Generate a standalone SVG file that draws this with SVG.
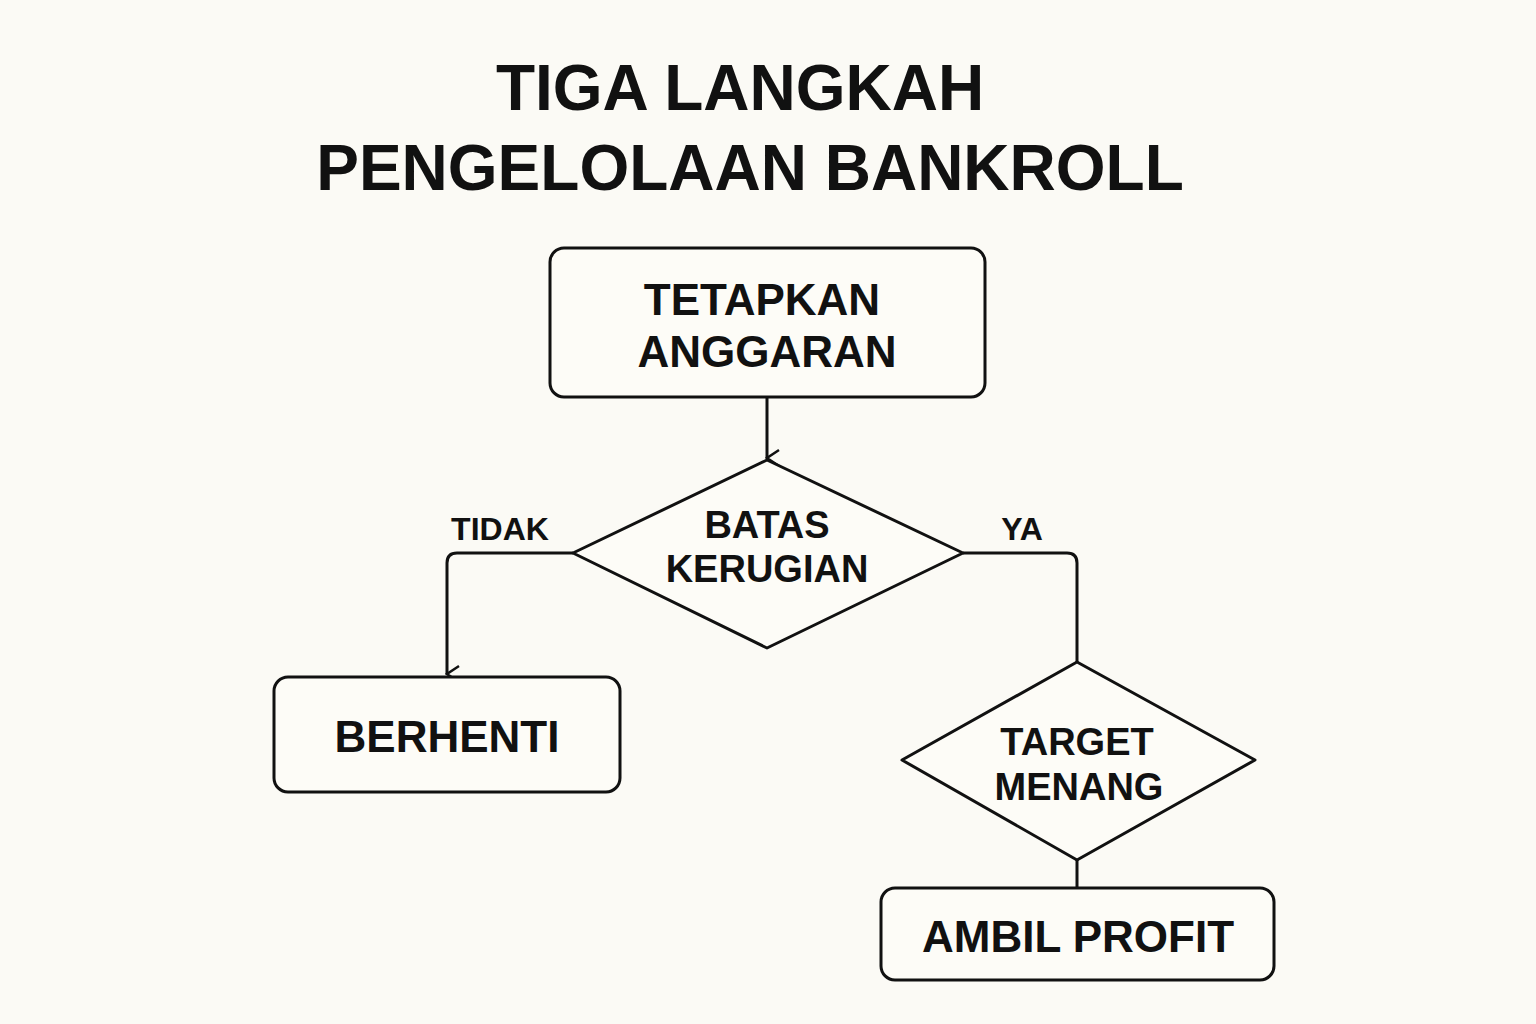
<svg xmlns="http://www.w3.org/2000/svg" width="1536" height="1024" viewBox="0 0 1536 1024">
<defs>
<style>
text{font-family:"Liberation Sans",Arial,sans-serif;font-weight:bold;fill:#111;text-anchor:middle}
.s{fill:#fdfcf7;stroke:#111;stroke-width:3;stroke-linejoin:round}
.c{fill:none;stroke:#111;stroke-width:3;stroke-linejoin:round}
</style>
<marker id="a" viewBox="0 0 20 20" refX="10" refY="18" markerWidth="20" markerHeight="20" markerUnits="userSpaceOnUse" orient="auto-start-reverse">
<path d="M2 6 L10 18 L18 6" fill="none" stroke="#111" stroke-width="2.5"/>
</marker>
</defs>
<rect width="1536" height="1024" fill="#fbfaf5"/>
<g id="title">
<text x="740" y="110" font-size="64">TIGA LANGKAH</text>
<text x="750" y="190" font-size="64">PENGELOLAAN BANKROLL</text>
</g>
<g id="connectors">
<path class="c" d="M767 397 V458" marker-end="url(#a)"/>
<path class="c" d="M573 553 H457 Q447 553 447 563 V674" marker-end="url(#a)"/>
<path class="c" d="M963 553 H1067 Q1077 553 1077 563 V662"/>
<path class="c" d="M1077 860 V888"/>
<text x="500" y="540" font-size="32" font-weight="normal">TIDAK</text>
<text x="1022" y="540" font-size="32">YA</text>
</g>
<g id="n1"><rect class="s" x="550" y="248" width="435" height="149" rx="14"/>
<text x="762" y="315" font-size="44">TETAPKAN</text><text x="767" y="367" font-size="44">ANGGARAN</text></g>
<g id="n2"><polygon class="s" points="767,460 963,553 767,648 573,553"/>
<text x="767" y="538" font-size="38">BATAS</text><text x="767" y="582" font-size="38">KERUGIAN</text></g>
<g id="n3"><rect class="s" x="274" y="677" width="346" height="115" rx="14"/>
<text x="447" y="752" font-size="44">BERHENTI</text></g>
<g id="n4"><polygon class="s" points="1077,662 1255,760 1077,860 902,760"/>
<text x="1077" y="755" font-size="38">TARGET</text><text x="1079" y="800" font-size="38">MENANG</text></g>
<g id="n5"><rect class="s" x="881" y="888" width="393" height="92" rx="14"/>
<text x="1078" y="952" font-size="44">AMBIL PROFIT</text></g>
</svg>
